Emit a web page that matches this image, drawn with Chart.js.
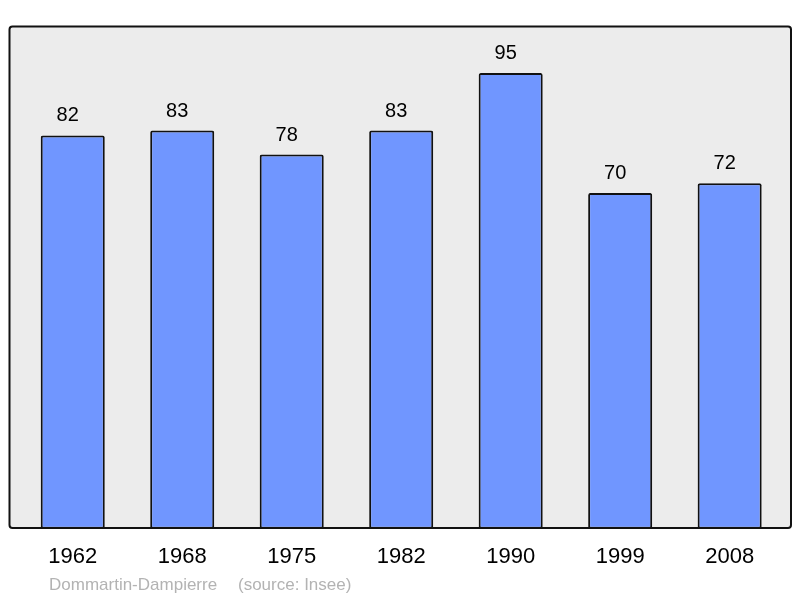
<!DOCTYPE html>
<html>
<head>
<meta charset="utf-8">
<script src="https://cdn.jsdelivr.net/npm/chart.js@4/dist/chart.umd.min.js"></script>
<style>
  body { margin: 0; background: #fff; }
  #wrap { width: 800px; height: 598px; position: relative; }
</style>
</head>
<body>
<div id="wrap"><canvas id="myChart"></canvas></div>
<script>
const years = ['1962', '1968', '1975', '1982', '1990', '1999', '2008'];
const population = [82, 83, 78, 83, 95, 70, 72];
const footerText = ['Dommartin-Dampierre', '(source: Insee)'];

const ctx = document.getElementById('myChart');

// grey frame behind the bars, black border on top
const framePlugin = {
    id: 'frame',
    beforeDatasetsDraw(chart) {
        const c = chart.ctx;
        c.save();
        c.fillStyle = '#ececec';
        c.beginPath();
        c.roundRect(9.5, 26.5, 781.5, 501.5, 3);
        c.fill();
        c.restore();
    },
    afterDatasetsDraw(chart) {
        const c = chart.ctx;
        c.save();
        c.strokeStyle = '#111';
        c.lineWidth = 2;
        c.beginPath();
        c.roundRect(9.5, 26.5, 781.5, 501.5, 3);
        c.stroke();

        // value labels above each bar
        const meta = chart.getDatasetMeta(0);
        c.fillStyle = '#000';
        c.font = '20px "Liberation Sans", Arial, sans-serif';
        c.textAlign = 'center';
        c.textBaseline = 'alphabetic';
        meta.data.forEach((bar, i) => {
            c.fillText(population[i], bar.x - 5, bar.y - 14);
        });

        // footer
        c.fillStyle = '#b3b3b3';
        c.font = '17px "Liberation Sans", Arial, sans-serif';
        c.textAlign = 'left';
        c.fillText(footerText[0], 49, 590);
        c.fillText(footerText[1], 238, 590);
        c.restore();
    }
};

new Chart(ctx, {
    type: 'bar',
    data: {
        labels: years,
        datasets: [{
            data: population,
            backgroundColor: 'rgb(112, 150, 255)',
            borderColor: '#111',
            borderWidth: 2,
            borderRadius: 2,
            borderSkipped: false,
            categoryPercentage: 1,
            barPercentage: 0.585,
        }]
    },
    options: {
        responsive: true,
        maintainAspectRatio: false,
        animation: false,
        layout: {
            padding: { left: 18, right: 15.6, top: 27, bottom: 12.3 }
        },
        plugins: {
            legend: { display: false },
            tooltip: { enabled: false },
        },
        scales: {
            x: {
                grid: { display: false, drawTicks: false },
                border: { display: false },
                ticks: {
                    color: '#000',
                    padding: 15.3,
                    font: { size: 22, family: '"Liberation Sans", Arial, sans-serif' },
                },
            },
            y: {
                display: false,
                min: 0,
                max: 104.6,
            }
        }
    },
    plugins: [framePlugin]
});
</script>
</body>
</html>
